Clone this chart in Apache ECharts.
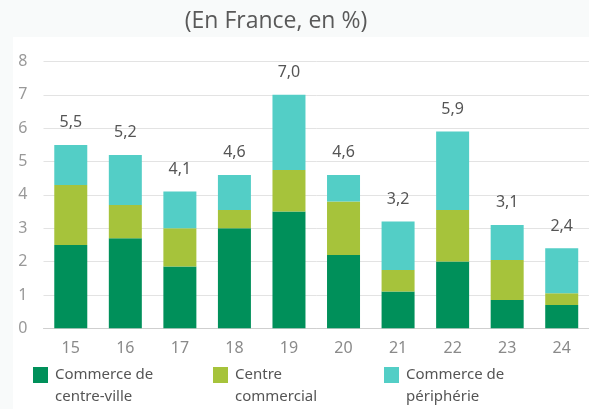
<!DOCTYPE html>
<html>
<head>
<meta charset="utf-8">
<script src="https://cdn.jsdelivr.net/npm/echarts@6/dist/echarts.min.js"></script>
<style>
  html, body { margin: 0; padding: 0; background: #f8fafa; }
  #main { width: 589px; height: 409px; }
</style>
</head>
<body>
<div id="main"></div>
<script>
'use strict'
// années
var years = ['15', '16', '17', '18', '19', '20', '21', '22', '23', '24']
// parts par type de commerce
var centreVille = [2.5, 2.7, 1.85, 3.0, 3.5, 2.2, 1.1, 2.0, 0.85, 0.7]
var centreCommercial = [1.8, 1.0, 1.15, 0.55, 1.25, 1.6, 0.65, 1.55, 1.2, 0.35]
var peripherie = [1.2, 1.5, 1.1, 1.05, 2.25, 0.8, 1.45, 2.35, 1.05, 1.35]
// totaux affichés au-dessus des barres
var totals = ['5,5', '5,2', '4,1', '4,6', '7,0', '4,6', '3,2', '5,9', '3,1', '2,4']
var yTicks = [0, 1, 2, 3, 4, 5, 6, 7, 8]

var names = ['Commerce de\ncentre-ville', 'Centre\ncommercial', 'Commerce de\npériphérie']
var colors = ['#00905a', '#a6c33b', '#53cec6']
var font = 'Noto Sans'

var myChart = echarts.init(document.getElementById('main'))

// une légende par série, le carré aligné sur la 1re ligne du texte
function legendAt(name, left) {
    return {
        data: [name],
        left: left,
        top: 342,
        padding: 0,
        icon: 'rect',
        itemWidth: 15,
        itemHeight: 16,
        selectedMode: false,
        formatter: function (n) { return '\n' + n },
        textStyle: {
            fontFamily: font,
            fontSize: 15,
            color: '#555',
            lineHeight: 22,
            padding: [0, 0, 0, 2]
        }
    }
}

var option = {
    backgroundColor: '#f8fafa',
    animation: false,
    graphic: [{
        type: 'rect',
        z: -10,
        shape: { x: 13, y: 37, width: 600, height: 400 },
        style: { fill: '#ffffff' }
    }],
    title: {
        text: '(En France, en %)',
        left: 271,
        textAlign: 'center',
        top: 5,
        textStyle: { fontFamily: 'Open Sans', fontSize: 23, fontWeight: 'normal', color: '#595959' }
    },
    legend: [
        legendAt(names[0], 33),
        legendAt(names[1], 213),
        legendAt(names[2], 384)
    ],
    grid: { left: 43.5, right: -4, top: 61.5, bottom: 80.7 },
    xAxis: {
        type: 'category',
        data: years,
        axisLine: { lineStyle: { color: '#cfcfcf' } },
        axisTick: { length: 5, lineStyle: { color: '#cfcfcf' } },
        axisLabel: { fontFamily: font, fontSize: 16, color: '#8a8a8a', margin: 12 }
    },
    yAxis: {
        type: 'value',
        min: yTicks[0],
        max: yTicks[yTicks.length - 1],
        interval: 1,
        axisLine: { show: false },
        axisTick: { show: false },
        splitLine: { lineStyle: { color: '#e3e3e3' } },
        axisLabel: { fontFamily: font, fontSize: 16, color: '#999', margin: 16 }
    },
    series: [
        { name: names[0], type: 'bar', stack: 'total', barWidth: 33, data: centreVille, itemStyle: { color: colors[0] } },
        { name: names[1], type: 'bar', stack: 'total', barWidth: 33, data: centreCommercial, itemStyle: { color: colors[1] } },
        {
            name: names[2], type: 'bar', stack: 'total', barWidth: 33, data: peripherie, itemStyle: { color: colors[2] },
            label: {
                show: true,
                position: 'top',
                distance: 14,
                fontFamily: font,
                fontSize: 16,
                color: '#555',
                formatter: function (p) { return totals[p.dataIndex] }
            }
        }
    ]
}
myChart.setOption(option)
</script>
</body>
</html>
